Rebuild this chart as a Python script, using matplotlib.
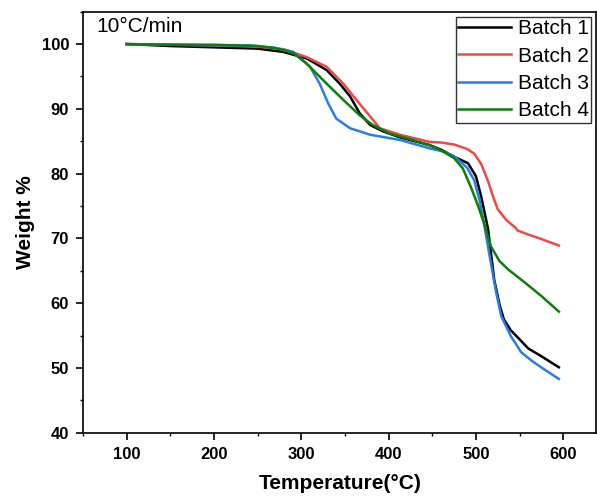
import matplotlib.pyplot as plt
from matplotlib.ticker import MultipleLocator

plt.rcParams['font.family'] = ['Liberation Sans', 'DejaVu Sans']

# temperature (°C) and weight (%)
temp_1 = [100, 150, 200, 250, 279, 306, 329, 344, 356, 367, 379, 394, 413, 447, 460, 475, 491, 500, 506, 514, 521, 527, 532, 540, 548, 560, 575, 595]
weight_1 = [100, 99.7, 99.5, 99.3, 98.8, 97.8, 96.0, 93.9, 91.9, 89.3, 87.5, 86.5, 85.6, 84.4, 83.7, 82.6, 81.6, 79.6, 76.5, 71.4, 63.6, 59.8, 57.5, 55.8, 54.7, 53.0, 51.8, 50.1]

temp_2 = [100, 150, 200, 250, 280, 306, 329, 348, 363, 379, 390, 413, 447, 460, 475, 490, 498, 506, 514, 520, 525, 535, 545, 548, 560, 575, 595]
weight_2 = [100, 99.9, 99.8, 99.6, 99.2, 98.0, 96.5, 93.9, 91.4, 88.8, 87.0, 86.0, 84.9, 84.8, 84.5, 83.8, 83.1, 81.5, 78.8, 76.3, 74.5, 72.8, 71.7, 71.2, 70.6, 69.9, 68.9]

temp_3 = [100, 150, 200, 241, 270, 291, 310, 321, 331, 340, 356, 379, 413, 447, 460, 475, 490, 498, 504, 509, 517, 523, 529, 540, 552, 565, 578, 595]
weight_3 = [100, 99.9, 99.8, 99.8, 99.4, 98.8, 96.5, 93.9, 90.8, 88.5, 87.0, 86.0, 85.2, 83.9, 83.5, 82.7, 80.9, 79.0, 76.0, 72.5, 66.3, 61.8, 58.0, 54.9, 52.4, 51.0, 49.8, 48.3]

temp_4 = [100, 150, 200, 250, 270, 291, 306, 329, 348, 367, 382, 401, 425, 447, 460, 475, 485, 494, 502, 509, 517, 527, 537, 555, 575, 595]
weight_4 = [100, 99.9, 99.9, 99.7, 99.4, 98.6, 97.0, 93.9, 91.4, 89.0, 87.5, 86.2, 85.3, 84.4, 83.6, 82.4, 80.8, 78.0, 75.2, 72.5, 68.8, 66.5, 65.2, 63.3, 61.1, 58.7]

series = [
    (temp_1, weight_1, 'black', 'Batch 1'),
    (temp_2, weight_2, '#f04848', 'Batch 2'),
    (temp_3, weight_3, '#2a7de1', 'Batch 3'),
    (temp_4, weight_4, '#0a7f0a', 'Batch 4'),
]

fig = plt.figure(figsize=(5.97, 5.0), dpi=100)
ax = fig.add_axes([0.139, 0.1346, 0.860, 0.842])

for t, w, c, lab in series:
    ax.plot(t, w, color=c, lw=1.8, label=lab)

ax.set_xlim(50, 638)
ax.set_ylim(40, 105)
ax.set_xticks([100, 200, 300, 400, 500, 600])
ax.xaxis.set_minor_locator(MultipleLocator(50))
ax.yaxis.set_major_locator(MultipleLocator(10))
ax.yaxis.set_minor_locator(MultipleLocator(5))
ax.tick_params(which='major', direction='out', length=5, width=1.2, labelsize=12, pad=5)
ax.tick_params(which='minor', direction='out', length=2.5, width=1.0)
ax.tick_params(top=False, right=False)
for lbl in ax.get_xticklabels() + ax.get_yticklabels():
    lbl.set_fontweight('bold')
for sp in ax.spines.values():
    sp.set_linewidth(1.2)

ax.set_xlabel('Temperature(°C)', fontsize=15, fontweight='bold', labelpad=9)
ax.set_ylabel('Weight %', fontsize=15, fontweight='bold', labelpad=5)

ax.text(0.027, 0.988, '10°C/min', transform=ax.transAxes, fontsize=15, va='top', ha='left')

leg = ax.legend(loc='upper right', fontsize=15, frameon=True, fancybox=False,
                edgecolor='black', handlelength=2.55, borderpad=0.12, labelspacing=0.4,
                handletextpad=0.3, borderaxespad=0.25)
leg.get_frame().set_linewidth(1.0)

fig.savefig('out.png', dpi=100)
